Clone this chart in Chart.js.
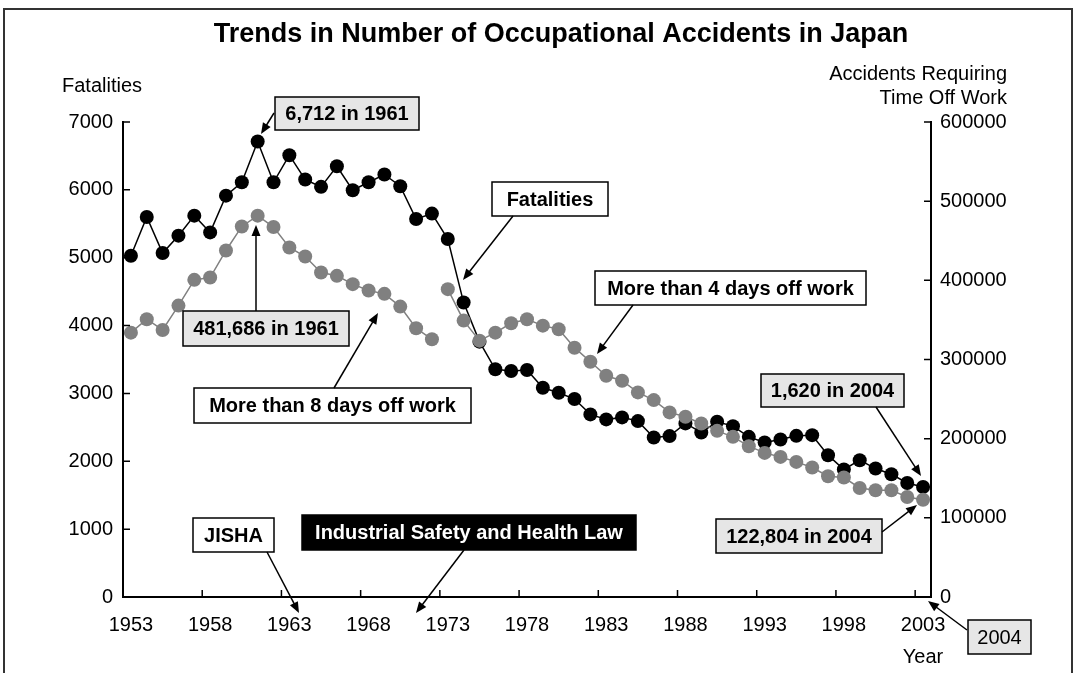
<!DOCTYPE html>
<html>
<head>
<meta charset="utf-8">
<script src="https://cdn.jsdelivr.net/npm/chart.js@4.4.0/dist/chart.umd.min.js"></script>
<style>
  body { margin: 0; background: #fff; }
  #wrap { width: 1076px; height: 673px; }
</style>
</head>
<body>
<div id="wrap"><canvas id="c" width="1076" height="673"></canvas></div>
<script>
// axis labels as printed on the chart
const years = [1953, 1954, 1955, 1956, 1957, 1958, 1959, 1960, 1961, 1962,
  1963, 1964, 1965, 1966, 1967, 1968, 1969, 1970, 1971, 1972,
  1973, 1974, 1975, 1976, 1977, 1978, 1979, 1980, 1981, 1982,
  1983, 1984, 1985, 1986, 1987, 1988, 1989, 1990, 1991, 1992,
  1993, 1994, 1995, 1996, 1997, 1998, 1999, 2000, 2001, 2002, 2003];

// left axis
const fatalities = [5029, 5601, 5069, 5325, 5620, 5373, 5915, 6112, 6712, 6112,
  6511, 6152, 6044, 6348, 5994, 6112, 6226, 6053, 5571, 5650,
  5276, 4339, 3763, 3356, 3331, 3345, 3084, 3010, 2917, 2691,
  2617, 2647, 2592, 2351, 2371, 2558, 2425, 2582, 2518, 2360,
  2278, 2322, 2375, 2385, 2090, 1879, 2016, 1893, 1809, 1681, 1620];

// right axis, first 20 points
const over8Days = [333920, 350880, 337340, 368090, 400620, 403540, 437710, 468090, 481686, 467330,
  441510, 430120, 409860, 405690, 395180, 387080, 382900, 366830, 339490, 325560];

// right axis, remaining 31 points
const over4Days = [388850, 349110, 323790, 333920, 345810, 350880, 342780, 338220, 314930, 297210,
  279490, 273160, 258470, 248730, 233160, 227590, 219240, 209870, 202270, 190500,
  182020, 176960, 170630, 163540, 152530, 150880, 137720, 134810, 134810, 126330, 122804];

const leftTicks = [0, 1000, 2000, 3000, 4000, 5000, 6000, 7000];
const rightTicks = [0, 100000, 200000, 300000, 400000, 500000, 600000];

const FONT = '"Liberation Sans", Arial, Helvetica, sans-serif';
const GRAY = "#808080";

function box(ctx, x, y, w, h, text, fill, color, bold) {
  ctx.save();
  ctx.fillStyle = fill;
  ctx.fillRect(x, y, w, h);
  ctx.strokeStyle = "#000";
  ctx.lineWidth = 1.5;
  ctx.strokeRect(x, y, w, h);
  ctx.fillStyle = color;
  ctx.font = (bold ? "bold " : "") + "20px " + FONT;
  ctx.textAlign = "center";
  ctx.textBaseline = "middle";
  ctx.fillText(text, x + w / 2, y + h / 2 + 1);
  ctx.restore();
}

function arrow(ctx, x1, y1, x2, y2) {
  const a = Math.atan2(y2 - y1, x2 - x1);
  const len = 11, hw = 4.5;
  ctx.save();
  ctx.strokeStyle = "#000";
  ctx.fillStyle = "#000";
  ctx.lineWidth = 1.5;
  ctx.beginPath();
  ctx.moveTo(x1, y1);
  ctx.lineTo(x2 - Math.cos(a) * len * 0.8, y2 - Math.sin(a) * len * 0.8);
  ctx.stroke();
  ctx.beginPath();
  ctx.moveTo(x2, y2);
  ctx.lineTo(x2 - Math.cos(a) * len - Math.sin(a) * hw, y2 - Math.sin(a) * len + Math.cos(a) * hw);
  ctx.lineTo(x2 - Math.cos(a) * len + Math.sin(a) * hw, y2 - Math.sin(a) * len - Math.cos(a) * hw);
  ctx.closePath();
  ctx.fill();
  ctx.restore();
}

const decor = {
  id: "decor",
  afterDraw(chart) {
    const ctx = chart.ctx;
    const area = chart.chartArea;
    const sx = chart.scales.x, sy = chart.scales.y, sy1 = chart.scales.y1;

    // frame (open at the bottom)
    ctx.save();
    ctx.strokeStyle = "#333";
    ctx.lineWidth = 2;
    ctx.beginPath();
    ctx.moveTo(4, 673);
    ctx.lineTo(4, 9);
    ctx.lineTo(1072, 9);
    ctx.lineTo(1072, 673);
    ctx.stroke();

    // inward tick marks
    ctx.strokeStyle = "#000";
    ctx.lineWidth = 1.5;
    ctx.beginPath();
    leftTicks.forEach(v => {
      const p = sy.getPixelForValue(v);
      ctx.moveTo(area.left, p); ctx.lineTo(area.left + 7, p);
    });
    rightTicks.forEach(v => {
      const p = sy1.getPixelForValue(v);
      ctx.moveTo(area.right - 7, p); ctx.lineTo(area.right, p);
    });
    const half = (sx.getPixelForValue(1) - sx.getPixelForValue(0)) / 2;
    for (let i = 5; i < years.length; i += 5) {
      const p = sx.getPixelForValue(i) - half;
      ctx.moveTo(p, area.bottom); ctx.lineTo(p, area.bottom - 7);
    }
    ctx.stroke();

    // titles
    ctx.fillStyle = "#000";
    ctx.textBaseline = "middle";
    ctx.font = "bold 27px " + FONT;
    ctx.textAlign = "center";
    ctx.fillText("Trends in Number of Occupational Accidents in Japan", 561, 35);
    ctx.font = "20px " + FONT;
    ctx.textAlign = "left";
    ctx.fillText("Fatalities", 62, 86);
    ctx.textAlign = "right";
    ctx.fillText("Accidents Requiring", 1007, 74);
    ctx.fillText("Time Off Work", 1007, 98);
    ctx.textAlign = "center";
    ctx.fillText("Year", 923, 657);
    ctx.restore();

    // callouts
    box(ctx, 275, 97, 144, 33, "6,712 in 1961", "#e6e6e6", "#000", true);
    arrow(ctx, 274, 113, 261, 134);
    box(ctx, 183, 311, 166, 35, "481,686 in 1961", "#e6e6e6", "#000", true);
    arrow(ctx, 256, 311, 256, 225);
    box(ctx, 194, 388, 277, 35, "More than 8 days off work", "#fff", "#000", true);
    arrow(ctx, 334, 388, 378, 313);
    box(ctx, 492, 182, 116, 34, "Fatalities", "#fff", "#000", true);
    arrow(ctx, 513, 216, 463, 280);
    box(ctx, 595, 271, 271, 34, "More than 4 days off work", "#fff", "#000", true);
    arrow(ctx, 633, 305, 597, 354);
    box(ctx, 761, 374, 143, 33, "1,620 in 2004", "#e6e6e6", "#000", true);
    arrow(ctx, 876, 407, 921, 476);
    box(ctx, 716, 519, 166, 34, "122,804 in 2004", "#e6e6e6", "#000", true);
    arrow(ctx, 882, 532, 917, 505);
    box(ctx, 193, 518, 81, 34, "JISHA", "#fff", "#000", true);
    arrow(ctx, 267, 552, 299, 613);
    box(ctx, 302, 515, 334, 35, "Industrial Safety and Health Law", "#000", "#fff", true);
    arrow(ctx, 464, 550, 416, 613);
    box(ctx, 968, 620, 63, 34, "2004", "#e6e6e6", "#000", false);
    arrow(ctx, 967, 630, 928, 601);
  }
};

const tickFont = { family: FONT, size: 20 };

new Chart(document.getElementById("c"), {
  type: "line",
  data: {
    labels: years,
    datasets: [
      {
        label: "More than 8 days off work",
        data: over8Days.concat(new Array(over4Days.length).fill(null)),
        yAxisID: "y1",
        borderColor: GRAY,
        backgroundColor: GRAY,
        pointBackgroundColor: GRAY,
        borderWidth: 1.5,
        pointRadius: 7,
        pointBorderWidth: 0,
        spanGaps: false
      },
      {
        label: "More than 4 days off work",
        data: new Array(over8Days.length).fill(null).concat(over4Days),
        yAxisID: "y1",
        borderColor: GRAY,
        backgroundColor: GRAY,
        pointBackgroundColor: GRAY,
        borderWidth: 1.5,
        pointRadius: 7,
        pointBorderWidth: 0,
        spanGaps: false
      },
      {
        label: "Fatalities",
        data: fatalities,
        yAxisID: "y",
        borderColor: "#000",
        backgroundColor: "#000",
        pointBackgroundColor: "#000",
        borderWidth: 1.5,
        pointRadius: 7,
        pointBorderWidth: 0
      }
    ]
  },
  options: {
    responsive: false,
    animation: false,
    layout: { padding: { top: 122, left: 0, right: 0, bottom: 0 } },
    plugins: {
      legend: { display: false },
      tooltip: { enabled: false },
      title: { display: false }
    },
    scales: {
      x: {
        type: "category",
        offset: true,
        grid: { display: false, drawTicks: false },
        border: { display: true, color: "#000", width: 2 },
        ticks: {
          autoSkip: false,
          maxRotation: 0,
          color: "#000",
          font: tickFont,
          padding: 16,
          callback: function (v, i) { return i % 5 === 0 ? String(years[i]) : null; }
        },
        afterFit: s => { s.height = 76; }
      },
      y: {
        position: "left",
        min: 0,
        max: 7000,
        grid: { display: false, drawTicks: false },
        border: { display: true, color: "#000", width: 2 },
        ticks: { stepSize: 1000, color: "#000", font: tickFont, padding: 10, callback: v => String(v) },
        afterFit: s => { s.width = 123; }
      },
      y1: {
        position: "right",
        min: 0,
        max: 600000,
        grid: { display: false, drawTicks: false },
        border: { display: true, color: "#000", width: 2 },
        ticks: { stepSize: 100000, color: "#000", font: tickFont, padding: 9, callback: v => String(v) },
        afterFit: s => { s.width = 145; }
      }
    }
  },
  plugins: [decor]
});
</script>
</body>
</html>
